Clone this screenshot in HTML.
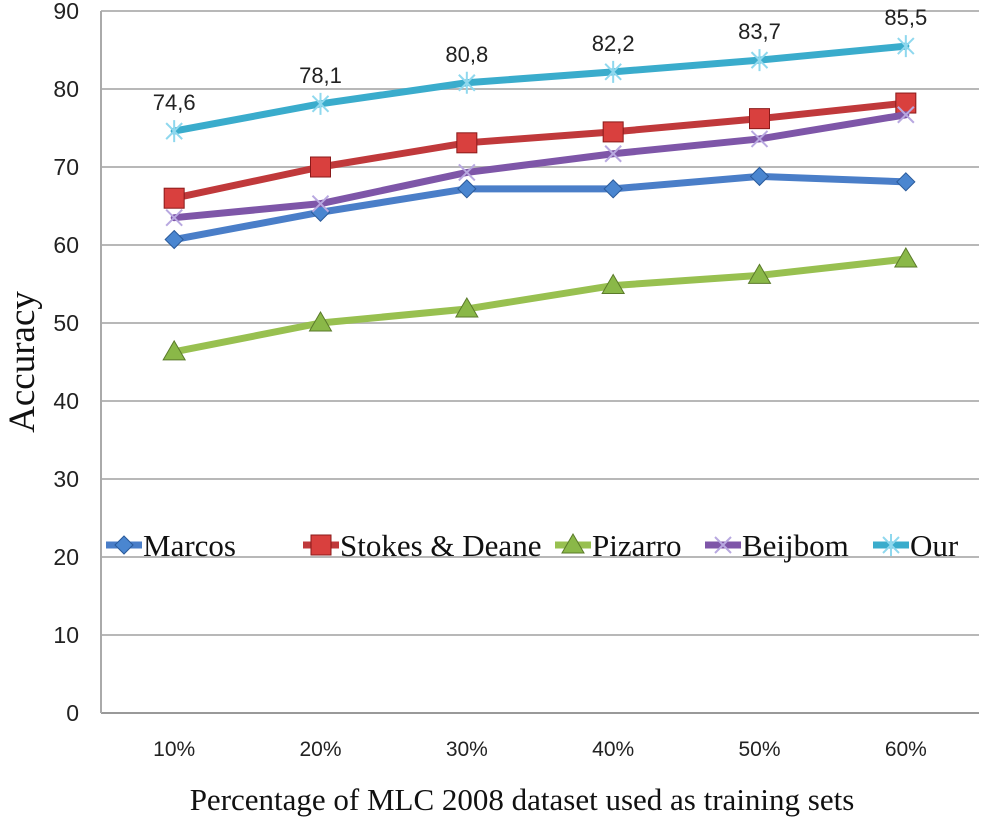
<!DOCTYPE html>
<html><head><meta charset="utf-8"><style>
body{margin:0;background:#fff;}
svg{display:block;}
</style></head><body>
<svg id="chart" width="1000" height="819" xmlns="http://www.w3.org/2000/svg"></svg>
<script>
const categories = ["10%","20%","30%","40%","50%","60%"];
const yTicks = [0,10,20,30,40,50,60,70,80,90];
const marcos = [60.7,64.2,67.2,67.2,68.8,68.1];
const stokes = [66.0,70.0,73.1,74.5,76.2,78.2];
const pizarro = [46.3,50.0,51.8,54.8,56.1,58.2];
const beijbom = [63.5,65.3,69.3,71.7,73.6,76.7];
const our = [74.6,78.1,80.8,82.2,83.7,85.5];
const ourLabels = ["74,6","78,1","80,8","82,2","83,7","85,5"];

const NS="http://www.w3.org/2000/svg";
const svg=document.getElementById('chart');
const L=101,R=979,T=11,B=713;
const x=i=>L+(R-L)/categories.length*(i+0.5);
const y=v=>B-(B-T)*v/90;
function mk(t,a,p){const e=document.createElementNS(NS,t);for(const k in a)e.setAttribute(k,a[k]);(p||svg).appendChild(e);return e;}

yTicks.forEach(v=>{
  const g=mk('line',{x1:L,x2:R,y1:y(v),y2:y(v),stroke:v===0?'#999':'#b8b8b8','stroke-width':2});
  
  
  const t=mk('text',{x:L-22,y:y(v)+8,'text-anchor':'end','font-family':'Liberation Sans, sans-serif','font-size':23,fill:'#222'});
  t.textContent=v;
  
  
});
const ax=mk('line',{x1:L,x2:L,y1:T,y2:B,stroke:'#aaa','stroke-width':2});


categories.forEach((c,i)=>{
  const t=mk('text',{x:x(i),y:756,'text-anchor':'middle','font-family':'Liberation Sans, sans-serif','font-size':21,fill:'#222'});
  t.textContent=c;
  
  
});
const yt=mk('text',{x:0,y:0,transform:'translate(34,362) rotate(-90)','text-anchor':'middle','font-family':'Liberation Serif, serif','font-size':37,fill:'#111'});
yt.textContent='Accuracy';


const xt=mk('text',{x:522,y:810,'text-anchor':'middle','font-family':'Liberation Serif, serif','font-size':31,fill:'#111'});
xt.textContent='Percentage of  MLC 2008 dataset used as training sets';



function marker(type,cx,cy,col,g){
  if(type==='diamond')mk('polygon',{points:`${cx},${cy-9} ${cx+9},${cy} ${cx},${cy+9} ${cx-9},${cy}`,fill:col,stroke:'#2a5a9a'},g);
  else if(type==='square')mk('rect',{x:cx-10,y:cy-10,width:20,height:20,fill:col,stroke:'#8a1a1a'},g);
  else if(type==='tri')mk('polygon',{points:`${cx},${cy-11} ${cx+11},${cy+8} ${cx-11},${cy+8}`,fill:col,stroke:'#5a7a2a'},g);
  else if(type==='x'){mk('path',{d:`M${cx-8},${cy-8}L${cx+8},${cy+8}M${cx-8},${cy+8}L${cx+8},${cy-8}`,stroke:'#b8a8e0','stroke-width':2},g);}
  else {mk('path',{d:`M${cx-8},${cy-8}L${cx+8},${cy+8}M${cx-8},${cy+8}L${cx+8},${cy-8}M${cx},${cy-11}L${cx},${cy+11}`,stroke:'#8fd8ee','stroke-width':2},g);}
}
const series=[
 {name:'Marcos',d:marcos,c:'#4a7ec8',m:'diamond',mc:'#4a86d0'},
 {name:'Stokes & Deane',d:stokes,c:'#c0393b',m:'square',mc:'#d9403e'},
 {name:'Pizarro',d:pizarro,c:'#98c050',m:'tri',mc:'#8ab848'},
 {name:'Beijbom',d:beijbom,c:'#7e56a8',m:'x',mc:'#7e56a8'},
 {name:'Our',d:our,c:'#3aaccc',m:'star',mc:'#3aaccc'}
];
series.forEach(s=>{
  const g=mk('g',{});
  
  
  mk('polyline',{points:s.d.map((v,i)=>x(i)+','+y(v)).join(' '),fill:'none',stroke:s.c,'stroke-width':7,'stroke-linejoin':'round','stroke-linecap':'round'},g);
  s.d.forEach((v,i)=>marker(s.m,x(i),y(v),s.mc,g));
});
our.forEach((v,i)=>{
  const t=mk('text',{x:x(i),y:y(v)-21,'text-anchor':'middle','font-family':'Liberation Sans, sans-serif','font-size':22,fill:'#222'});
  t.textContent=ourLabels[i];
  
  
});
// legend
const lg=mk('g',{});


const lx=[106,303,555,705,873];
series.forEach((s,i)=>{
  const e=mk('g',{},lg);
  
  
  mk('line',{x1:lx[i],x2:lx[i]+36,y1:545,y2:545,stroke:s.c,'stroke-width':7},e);
  marker(s.m,lx[i]+18,545,s.mc,e);
  const t=mk('text',{x:lx[i]+37,y:556,'font-family':'Liberation Serif, serif','font-size':31,fill:'#111'},e);
  t.textContent=s.name;
});
</script>
</body></html>
